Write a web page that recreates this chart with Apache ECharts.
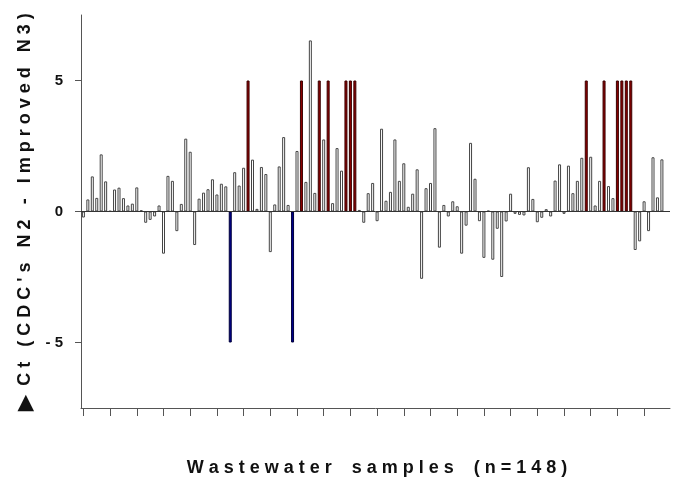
<!DOCTYPE html>
<html>
<head>
<meta charset="utf-8">
<style>
  html, body { margin: 0; padding: 0; background: #ffffff; }
  #chart { width: 678px; height: 489px; }
</style>
<script src="https://cdn.jsdelivr.net/npm/echarts@6/dist/echarts.min.js"></script>
</head>
<body>
<div id="chart"></div>
<script>
// ΔCt (CDC's N2 - Improved N3) per wastewater sample, in plotting order
var deltaCt = [
  -0.23, 0.46, 1.34, 0.52, 2.18, 1.15, 0.02, 0.84, 0.91, 0.51, 0.23, 0.30, 0.92, 0.05, -0.43, -0.32,
  -0.19, 0.23, -1.61, 1.36, 1.17, -0.75, 0.29, 2.78, 2.28, -1.28, 0.49, 0.72, 0.85, 1.23, 0.65, 1.06, 0.96,
  -5, 1.50, 0.99, 1.67, 5, 1.98, 0.10, 1.70, 1.43, -1.55, 0.27, 1.72, 2.84, 0.25, -5, 2.31,
  5, 1.13, 6.53, 0.71, 5, 2.75, 5, 0.32, 2.42, 1.56, 5, 5, 5, 0.06, -0.43, 0.70,
  1.09, -0.37, 3.16, 0.41, 0.75, 2.75, 1.17, 1.84, 0.18, 0.68, 1.61, -2.57, 0.89, 1.09, 3.18, -1.38, 0.25,
  -0.19, 0.39, 0.20, -1.61, -0.54, 2.62, 1.25, -0.37, -1.77, 0.03, -1.84, -0.66, -2.50, -0.38, 0.68, -0.09,
  -0.13, -0.15, 1.69, 0.48, -0.41, -0.24, 0.09, -0.19, 1.18, 1.80, -0.09, 1.75, 0.70, 1.17, 2.05, 5,
  2.09, 0.23, 1.17, 5, 0.97, 0.51, 5, 5, 5, 5, -1.47, -1.14, 0.39, -0.75, 2.07, 0.54, 1.99
];
// x-axis tick positions (bar positions)
var xTickPositions = [1, 7, 13, 19, 25, 31, 37, 43, 49, 55, 61, 67, 73, 79, 85, 91, 97, 103, 109, 115, 121, 127];
// y-axis tick values
var yTickValues = [-5, 0, 5];
var yTitle = 'C t   ( C D C \' s   N 2   -   I m p r o v e d   N 3 )';
var xTitle = 'W a s t e w a t e r    s a m p l e s    ( n = 1 4 8 )';

var RED = '#8e0000', BLUE = '#00008e';
var barData = deltaCt.map(function (v, i) {
  var item = { value: [i + 1, v] };
  if (v === 5) item.itemStyle = { color: RED, borderColor: '#3a0000' };
  else if (v === -5) item.itemStyle = { color: BLUE, borderColor: '#00003a' };
  return item;
});

var chart = echarts.init(document.getElementById('chart'), null, { renderer: 'canvas' });
var axisGray = '#555555';
var FONT = '"Liberation Sans", Arial, sans-serif';
var option = {
  animation: false,
  backgroundColor: '#ffffff',
  grid: { left: 81, top: 15, width: 589, height: 393, containLabel: false },
  xAxis: {
    type: 'value',
    min: 0.46,
    max: 132.82,
    splitLine: { show: false },
    axisLine: { show: true, onZero: false, lineStyle: { color: axisGray, width: 1 } },
    axisTick: { show: true, length: 8, inside: false, customValues: xTickPositions, lineStyle: { color: axisGray, width: 1 } },
    axisLabel: { show: false }
  },
  yAxis: {
    type: 'value',
    min: -7.5,
    max: 7.5,
    splitLine: { show: false },
    axisLine: { show: true, onZero: false, lineStyle: { color: axisGray, width: 1 } },
    axisTick: { show: true, length: 6, customValues: yTickValues, lineStyle: { color: axisGray, width: 1 } },
    axisLabel: {
      show: true,
      customValues: yTickValues,
      margin: 18,
      color: '#111',
      fontFamily: FONT,
      fontWeight: 'bold',
      fontSize: 15,
      formatter: function (v) { return v < 0 ? '- ' + Math.abs(v) : String(v); }
    }
  },
  series: [{
    type: 'bar',
    data: barData,
    barWidth: 3,
    itemStyle: { color: '#ffffff', borderColor: '#444444', borderWidth: 1 },
    markLine: {
      silent: true,
      symbol: 'none',
      label: { show: false },
      lineStyle: { color: '#333333', type: 'solid', width: 1 },
      data: [{ yAxis: 0 }]
    }
  }],
  graphic: [
    {
      type: 'text',
      x: 25, y: 212,
      rotation: Math.PI / 2,
      style: {
        text: '{tri|\u25B6}  ' + yTitle,
        align: 'center',
        verticalAlign: 'middle',
        fill: '#111',
        font: 'bold 18px ' + FONT,
        rich: {
          tri: { fontSize: 20, fontWeight: 'bold', fontFamily: FONT, fill: '#111' }
        }
      }
    },
    {
      type: 'text',
      x: 377, y: 468,
      style: {
        text: xTitle,
        align: 'center',
        verticalAlign: 'middle',
        fill: '#111',
        font: 'bold 18px ' + FONT
      }
    }
  ]
};
chart.setOption(option);
</script>
</body>
</html>
